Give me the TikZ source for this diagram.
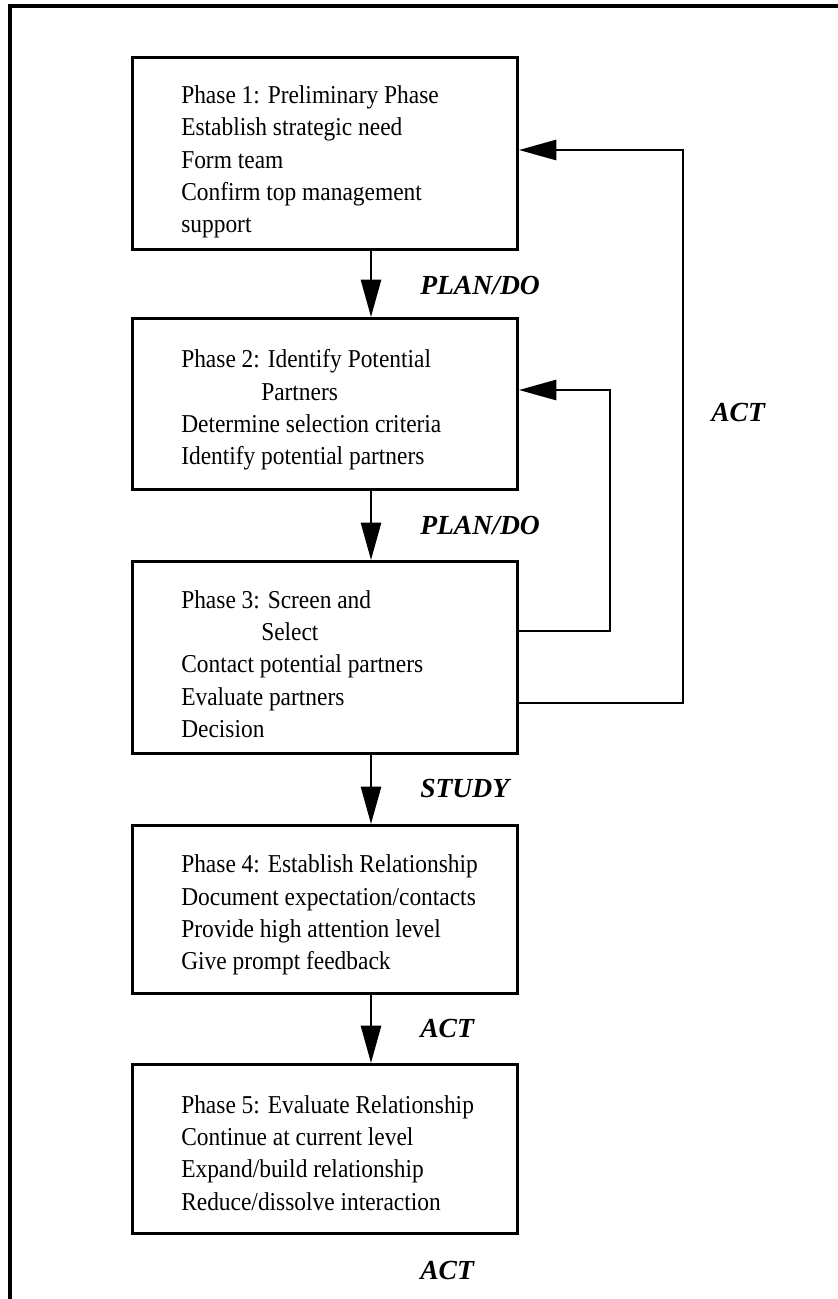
\documentclass[tikz,border=0pt]{standalone}
\usepackage{fontspec}
\setmainfont{Liberation Serif}[FakeStretch=0.91]
\newfontfamily\labelfont{Liberation Serif}
\usetikzlibrary{arrows.meta}
\begin{document}
\begin{tikzpicture}[x=0.75pt,y=-0.75pt,
  phasebox/.style={draw,line width=2.2pt,rectangle,anchor=north west,inner sep=0pt},
  phasetext/.style={anchor=west,align=left,inner sep=0pt,font=\fontsize{19.3}{24.2}\selectfont},
  steplabel/.style={anchor=west,inner sep=0pt,font=\labelfont\fontsize{20.7}{24}\selectfont\bfseries\itshape},
  arr/.style={line width=2pt,-{Triangle[length=28pt,width=15pt]}},
  link/.style={line width=2pt}]
\useasboundingbox (0,0) rectangle (838,1299);
% outer frame (top and left edges)
\draw[line width=2.6pt] (10,1299) -- (10,6) -- (838,6);
% phase boxes
\node[phasebox,minimum width=385*0.75pt,minimum height=192*0.75pt] (box1) at (131,56) {};
\node[phasebox,minimum width=385*0.75pt,minimum height=171*0.75pt] (box2) at (131,317) {};
\node[phasebox,minimum width=385*0.75pt,minimum height=192*0.75pt] (box3) at (131,560) {};
\node[phasebox,minimum width=385*0.75pt,minimum height=168*0.75pt] (box4) at (131,824) {};
\node[phasebox,minimum width=385*0.75pt,minimum height=169*0.75pt] (box5) at (131,1063) {};
% box texts
\node[phasetext] (t1) at (181,162) {Phase 1: Preliminary Phase\\Establish strategic need\\Form team\\Confirm top management\\support};
\node[phasetext] (t2) at (181,410) {Phase 2: Identify Potential\\\hspace*{60pt}Partners\\Determine selection criteria\\Identify potential partners};
\node[phasetext] (t3) at (181,664) {Phase 3: Screen and\\\hspace*{60pt}Select\\Contact potential partners\\Evaluate partners\\Decision};
\node[phasetext] (t4) at (181,915) {Phase 4: Establish Relationship\\Document expectation/contacts\\Provide high attention level\\Give prompt feedback};
\node[phasetext] (t5) at (181,1153) {Phase 5: Evaluate Relationship\\Continue at current level\\Expand/build relationship\\Reduce/dissolve interaction};
% step labels
\node[steplabel] (l1) at (420,285) {PLAN/DO};
\node[steplabel] (l2) at (420,525) {PLAN/DO};
\node[steplabel] (l3) at (420,788) {STUDY};
\node[steplabel] (l4) at (420,1028) {ACT};
\node[steplabel] (l5) at (420,1270) {ACT};
\node[steplabel] (l6) at (711,412) {ACT};
% routing coordinates
\coordinate (col) at (371,0);
\coordinate (inx) at (610,0);
\coordinate (outx) at (683,0);
\coordinate (in2) at (0,390);
\coordinate (in3) at (0,631);
\coordinate (out1) at (0,150);
\coordinate (out3) at (0,703);
% downward flow
\draw[arr] (box1.south -| col) -- (box2.north -| col);
\draw[arr] (box2.south -| col) -- (box3.north -| col);
\draw[arr] (box3.south -| col) -- (box4.north -| col);
\draw[arr] (box4.south -| col) -- (box5.north -| col);
% feedback loops
\draw[arr] (box3.east |- in3) -- (in3 -| inx) -- (in2 -| inx) -- (box2.east |- in2);
\draw[arr] (box3.east |- out3) -- (out3 -| outx) -- (out1 -| outx) -- (box1.east |- out1);
\end{tikzpicture}
\end{document}
